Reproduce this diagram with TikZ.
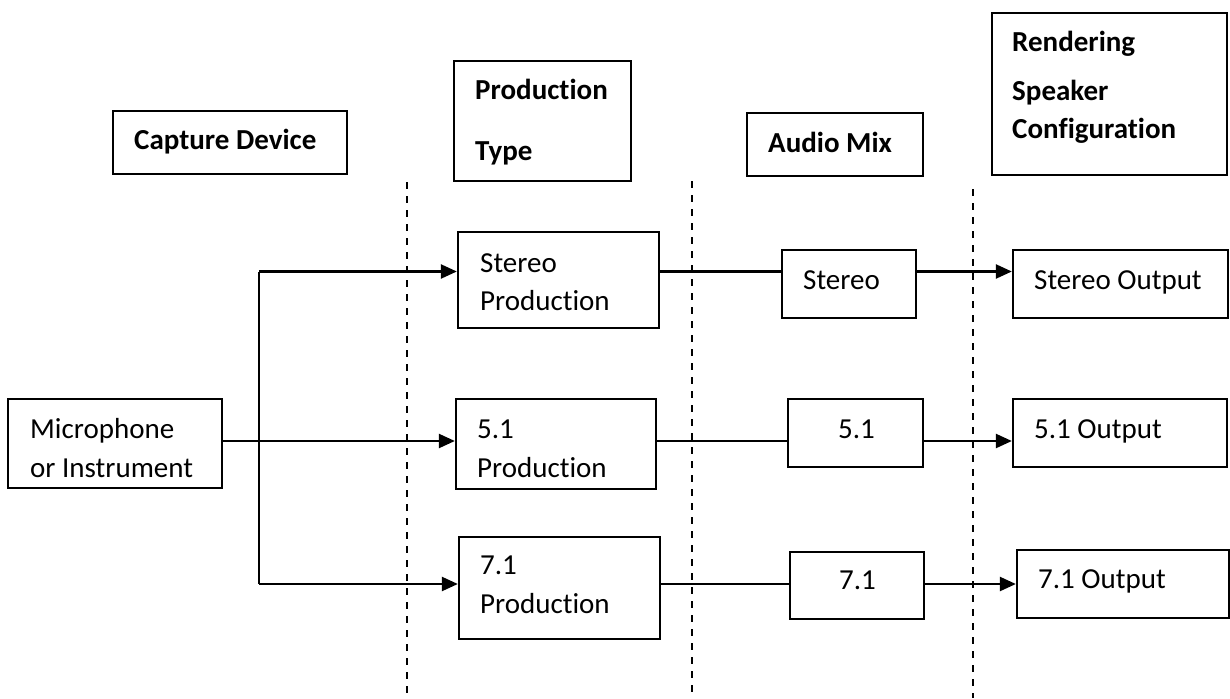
\documentclass[tikz,border=0pt]{standalone}
\usepackage{fontspec}
\setmainfont[Ligatures=NoCommon]{Carlito}
\usetikzlibrary{arrows.meta}
\begin{document}
\begin{tikzpicture}[x=1pt,y=-1pt,
  box/.style={draw=black,line width=2.3pt,inner sep=0pt,fill=white},
  txt/.style={anchor=base west,inner sep=0pt,font=\fontsize{29}{35}\selectfont},
  btxt/.style={txt,font=\fontsize{29}{35}\selectfont\bfseries},
  conn/.style={draw=black,line width=2.3pt},
  arr/.style={conn,-{Triangle[length=16pt,width=14pt]}},
  sep/.style={draw=black,line width=2.3pt,dash pattern=on 7pt off 7pt}]
\useasboundingbox (0,0) rectangle (1230,698);
% separators
\coordinate (d1t) at (407,182); \coordinate (d1b) at (407,693);
\coordinate (d2t) at (692,181); \coordinate (d2b) at (692,693);
\coordinate (d3t) at (973,189); \coordinate (d3b) at (973,698);
\draw[sep] (d1t) -- (d1b);
\draw[sep] (d2t) -- (d2b);
\draw[sep] (d3t) -- (d3b);
% header boxes
\node[box,minimum width=234pt,minimum height=63pt] (cap) at (230,142.5) {};
\node[box,minimum width=177pt,minimum height=120pt] (pt) at (542.5,121) {};
\node[box,minimum width=176pt,minimum height=63pt] (am) at (835,144.5) {};
\node[box,minimum width=235pt,minimum height=162pt] (rs) at (1109.5,94) {};
\node[btxt] (capt) at (134,149) {Capture Device};
\node[btxt] (pt1) at (475,100) {Production};
\node[btxt] (pt2) at (475,160) {Type};
\node[btxt] (amt) at (768,152) {Audio Mix};
\node[btxt] (rs1) at (1012,52) {Rendering};
\node[btxt] (rs2) at (1012,101) {Speaker};
\node[btxt] (rs3) at (1012,138) {Configuration};
% flow boxes
\node[box,minimum width=214pt,minimum height=89pt] (mic) at (115,443.5) {};
\node[box,minimum width=201pt,minimum height=96pt] (sp) at (558.5,280) {};
\node[box,minimum width=134pt,minimum height=68pt] (smx) at (849,284) {};
\node[box,minimum width=215pt,minimum height=68pt] (so) at (1120.5,284) {};
\node[box,minimum width=200pt,minimum height=90pt] (fp) at (556,444) {};
\node[box,minimum width=135pt,minimum height=68pt] (fmx) at (855.5,433) {};
\node[box,minimum width=214pt,minimum height=68pt] (fo) at (1120,433) {};
\node[box,minimum width=201pt,minimum height=102pt] (vp) at (559.5,588) {};
\node[box,minimum width=134pt,minimum height=67pt] (vmx) at (857,585.5) {};
\node[box,minimum width=212pt,minimum height=68pt] (vo) at (1123,584) {};
% texts
\node[txt] (mic1) at (30,438) {Microphone};
\node[txt] (mic2) at (30,477) {or Instrument};
\node[txt] (sp1) at (480,272) {Stereo};
\node[txt] (sp2) at (480,310) {Production};
\node[txt] (smxt) at (803,289) {Stereo};
\node[txt] (sot) at (1034,289) {Stereo Output};
\node[txt] (fp1) at (477,438) {5.1};
\node[txt] (fp2) at (477,477) {Production};
\node[txt] (fmxt) at (838,438) {5.1};
\node[txt] (fot) at (1034,438) {5.1 Output};
\node[txt] (vp1) at (480,574) {7.1};
\node[txt] (vp2) at (480,613) {Production};
\node[txt] (vmxt) at (839,589) {7.1};
\node[txt] (vot) at (1038,588) {7.1 Output};
% connectors
\coordinate (j1) at (259,271.5);
\coordinate (j2) at (259,441);
\coordinate (j3) at (259,584);
\draw[conn] (mic.east |- j2) -- (j2);
\draw[conn] (j1) -- (j3);
\draw[arr] (j1) -- (sp.west |- j1);
\draw[arr] (j2) -- (fp.west |- j2);
\draw[arr] (j3) -- (vp.west |- j3);
\draw[conn] (sp.east |- j1) -- (smx.west |- j1);
\draw[conn] (fp.east |- j2) -- (fmx.west |- j2);
\draw[conn] (vp.east |- j3) -- (vmx.west |- j3);
\draw[arr] (smx.east |- j1) -- (so.west |- j1);
\draw[arr] (fmx.east |- j2) -- (fo.west |- j2);
\draw[arr] (vmx.east |- j3) -- (vo.west |- j3);
\end{tikzpicture}
\end{document}
